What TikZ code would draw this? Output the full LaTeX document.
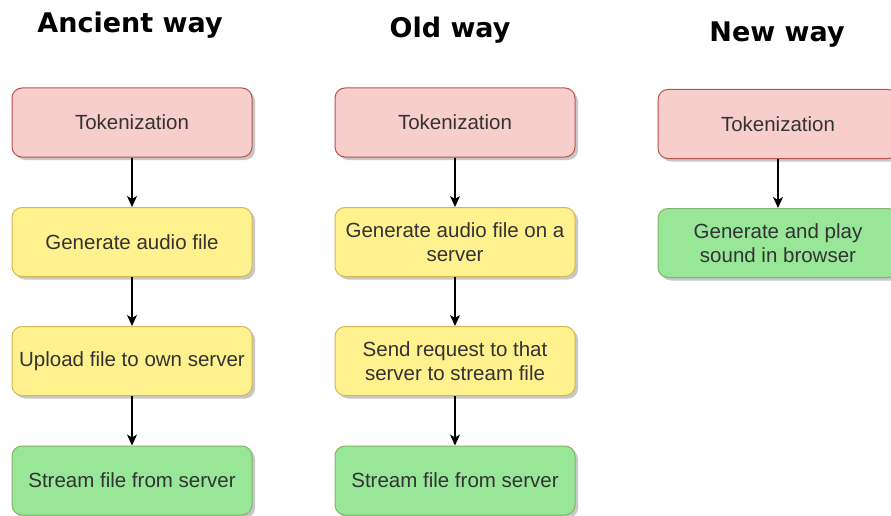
\documentclass[tikz,border=0pt]{standalone}
\usepackage{fontspec}
\setmainfont{Liberation Sans}
\newfontfamily\titlefont{DejaVu Sans}
\usetikzlibrary{shadows,arrows.meta}
\definecolor{redfill}{HTML}{F8CECC}
\definecolor{redline}{HTML}{B85450}
\definecolor{yelfill}{HTML}{FFF18E}
\definecolor{yelline}{HTML}{D6B656}
\definecolor{grnfill}{HTML}{98E698}
\definecolor{grnline}{HTML}{82B366}
\definecolor{txtgray}{HTML}{333333}
\definecolor{shadowgray}{HTML}{C8C8C8}
\tikzset{
  box/.style={draw, line width=1pt, rounded corners=10pt, minimum width=240pt, minimum height=69pt,
    inner sep=0pt, align=center, text=txtgray, font=\fontsize{20.5}{23.5}\selectfont,
    drop shadow={shadow xshift=3pt, shadow yshift=-3pt, fill=shadowgray, opacity=1}},
  redbox/.style={box, fill=redfill, draw=redline},
  yelbox/.style={box, fill=yelfill, draw=yelline},
  grnbox/.style={box, fill=grnfill, draw=grnline},
  ttl/.style={font=\titlefont\bfseries\fontsize{27}{32}\selectfont, anchor=base, inner sep=0pt},
  conn/.style={draw, line width=1.3pt, -{Stealth[length=11pt,width=10pt,inset=3pt]}}
}
\begin{document}
\begin{tikzpicture}[x=1pt,y=-1pt]
\useasboundingbox (0,0) rectangle (891,516);
\fill[white] (0,0) rectangle (891,516);
% titles
\node[ttl] (t1) at (130,33) {Ancient way};
\node[ttl] (t2) at (450,38) {Old way};
\node[ttl] (t3) at (777,42) {New way};
% column 1
\node[redbox] (a1) at (132,122.5) {Tokenization};
\node[yelbox] (a2) at (132,242) {Generate audio file};
\node[yelbox] (a3) at (132,361) {Upload file to own server};
\node[grnbox] (a4) at (132,480.5) {Stream file from server};
% column 2
\node[redbox] (b1) at (455,122.5) {Tokenization};
\node[yelbox] (b2) at (455,242) {Generate audio file on a\\server};
\node[yelbox] (b3) at (455,361) {Send request to that\\server to stream file};
\node[grnbox] (b4) at (455,480.5) {Stream file from server};
% column 3
\node[redbox] (c1) at (778,124) {Tokenization};
\node[grnbox] (c2) at (778,243) {Generate and play\\sound in browser};
% connectors
\draw[conn] (a1) -- (a2);
\draw[conn] (a2) -- (a3);
\draw[conn] (a3) -- (a4);
\draw[conn] (b1) -- (b2);
\draw[conn] (b2) -- (b3);
\draw[conn] (b3) -- (b4);
\draw[conn] (c1) -- (c2);
\end{tikzpicture}
\end{document}
